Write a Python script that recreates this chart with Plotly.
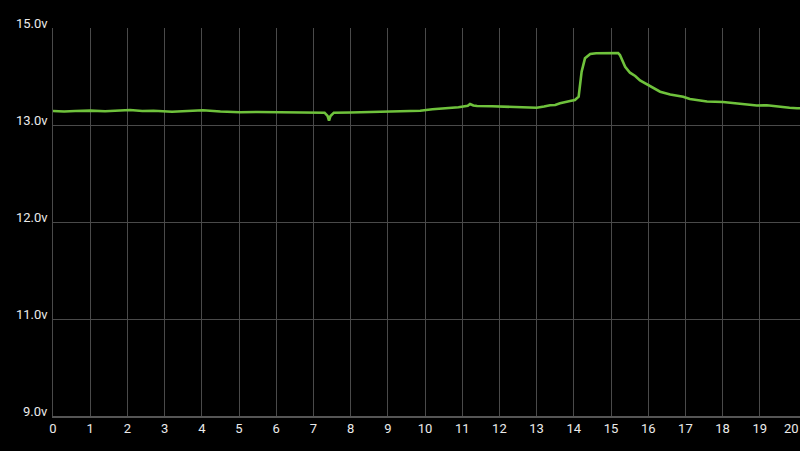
import numpy as np
import plotly.graph_objects as go

# Time (x) and voltage readings
time_x = [0.0, 0.3, 0.6, 1.0, 1.4, 1.8, 2.07, 2.4, 2.7, 3.2, 3.6, 4.03, 4.5, 5.03, 5.5,
          6.1, 6.64, 7.0, 7.3, 7.38, 7.42, 7.46, 7.55, 8.0, 8.5, 9.0, 9.5, 9.87, 10.2,
          10.6, 10.9, 11.15, 11.21, 11.3, 11.4, 11.8, 12.1, 12.55, 13.0, 13.2, 13.36,
          13.5, 13.63, 13.9, 14.03, 14.13, 14.21, 14.3, 14.44, 14.6, 14.8, 15.0, 15.19,
          15.24, 15.38, 15.51, 15.65, 15.78, 16.05, 16.32, 16.59, 16.94, 17.12, 17.35,
          17.58, 18.01, 18.25, 18.47, 18.7, 18.92, 19.19, 19.54, 19.8, 20.0, 20.08]
voltage = [13.289, 13.278, 13.289, 13.297, 13.282, 13.289, 13.309, 13.289, 13.295, 13.274,
           13.285, 13.303, 13.278, 13.262, 13.268, 13.262, 13.262, 13.258, 13.254, 13.186,
           13.089, 13.186, 13.254, 13.258, 13.268, 13.278, 13.285, 13.295, 13.324, 13.344,
           13.365, 13.396, 13.433, 13.402, 13.392, 13.386, 13.377, 13.365, 13.357, 13.381,
           13.408, 13.412, 13.447, 13.495, 13.515, 13.584, 14.099, 14.375, 14.464, 14.478,
           14.485, 14.478, 14.485, 14.443, 14.202, 14.078, 14.010, 13.918, 13.804, 13.687,
           13.629, 13.584, 13.536, 13.515, 13.485, 13.474, 13.454, 13.433, 13.423, 13.402,
           13.406, 13.371, 13.355, 13.344, 13.344]

# Axis ticks (evenly spaced gridlines, non-uniform voltage labels)
y_tick_volts = [9.0, 11.0, 12.0, 13.0, 15.0]
y_tick_labels = ["9.0v", "11.0v", "12.0v", "13.0v", "15.0v"]
x_ticks = list(range(0, 21))

# Piecewise axis scale: each labelled voltage sits on an evenly spaced gridline
grid_pos = list(range(len(y_tick_volts)))
y_disp = np.interp(voltage, y_tick_volts, grid_pos)

fig = go.Figure()
fig.add_trace(go.Scatter(
    x=time_x, y=y_disp, mode="lines",
    line=dict(color="#6fc23c", width=2.6),
    hoverinfo="skip", showlegend=False,
))

fig.update_layout(
    width=800, height=451,
    paper_bgcolor="#000000", plot_bgcolor="#000000",
    margin=dict(l=53, r=0, t=28, b=35),
    font=dict(family="Roboto", size=13, color="#ebebeb"),
    showlegend=False,
)
fig.update_xaxes(
    range=[0, 20.08], tickmode="array", tickvals=x_ticks[:-1],
    ticktext=[str(v) for v in x_ticks[:-1]], automargin=False,
    showgrid=True, gridcolor="#4a4a4a", gridwidth=1,
    showline=True, linecolor="#555555", linewidth=1.5,
    zeroline=False, ticks="", ticklen=0,
    tickfont=dict(size=13, color="#ebebeb"),
)
fig.update_yaxes(
    range=[0, 4], tickmode="array", tickvals=grid_pos, ticktext=y_tick_labels,
    automargin=False, showticklabels=False,
    showgrid=True, gridcolor="#4a4a4a", gridwidth=1,
    showline=True, linecolor="#4a4a4a", linewidth=1,
    zeroline=False, ticks="",
)

# y labels sit just above their gridlines, right-aligned to the axis
for pos, lab in zip(grid_pos, y_tick_labels):
    fig.add_annotation(
        x=0, xref="paper", y=pos, yref="y", xanchor="right", yanchor="middle",
        text=lab, showarrow=False, xshift=-3, yshift=5,
        font=dict(size=13, color="#ebebeb"),
    )

# last x tick label at the right edge (right-aligned so it stays on the page)
fig.add_annotation(
    x=x_ticks[-1], y=0, xref="x", yref="paper", xanchor="right", yanchor="top",
    text=str(x_ticks[-1]), showarrow=False, yshift=-3, xshift=4,
    font=dict(size=13, color="#ebebeb"),
)

fig.write_html(
    "out.html",
    config={"displayModeBar": False},
    post_script="document.body.style.margin='0';document.body.style.background='#000';",
)
